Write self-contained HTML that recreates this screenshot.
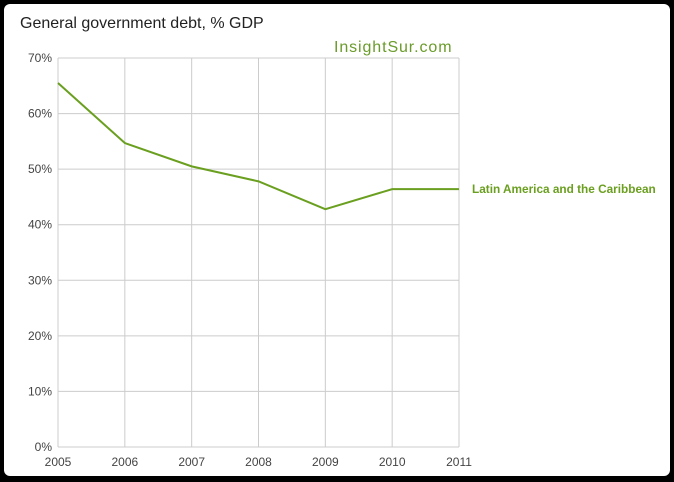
<!DOCTYPE html>
<html><head><meta charset="utf-8"><style>
html,body{margin:0;padding:0;background:#000;}
#frame{position:absolute;left:4px;top:4px;width:666px;height:472px;background:#fff;border-radius:6px;}
svg{position:absolute;left:0;top:0;}
text{font-family:"Liberation Sans",Arial,sans-serif;}
</style></head><body>
<div id="frame"></div>
<svg id="chart" width="674" height="482">
<text x="20" y="28" font-size="16" fill="#222">General government debt, % GDP</text>
<text x="334" y="52" font-size="16" letter-spacing="0.9" fill="#6a9b2a">InsightSur.com</text>
<g id="grid"></g><g id="series"></g>
</svg>
<script>
const years=["2005","2006","2007","2008","2009","2010","2011"];
const debt=[65.5,54.7,50.5,47.8,42.8,46.4,46.4];
const yTicks=[0,10,20,30,40,50,60,70];
const seriesName="Latin America and the Caribbean";
const X0=58,X1=459,Y0=447,Y1=58,NS="http://www.w3.org/2000/svg";
const xs=i=>X0+(X1-X0)*i/(years.length-1);
const ys=v=>Y0-(Y0-Y1)*v/70;
const g=document.getElementById('grid'),s=document.getElementById('series');
function mk(t,a,p){const e=document.createElementNS(NS,t);for(const k in a)e.setAttribute(k,a[k]);p.appendChild(e);return e;}
yTicks.forEach(v=>{
 const l=mk('line',{x1:X0,x2:X1,y1:ys(v),y2:ys(v),stroke:'#ccc','stroke-width':1},g);
 
 
 const t=mk('text',{x:X0-6,y:ys(v)+4,'text-anchor':'end','font-size':12,fill:'#444'},g);t.textContent=v+'%';
 
 
});
years.forEach((y,i)=>{
 const l=mk('line',{x1:xs(i),x2:xs(i),y1:Y1,y2:Y0,stroke:'#ccc','stroke-width':1},g);
 
 
 const t=mk('text',{x:xs(i),y:466,'text-anchor':'middle','font-size':12,fill:'#444'},g);t.textContent=y;
 
 
});
const p=mk('polyline',{points:debt.map((v,i)=>xs(i)+','+ys(v)).join(' '),fill:'none',stroke:'#6a9f1f','stroke-width':2},s);


const lt=mk('text',{x:472,y:ys(debt[debt.length-1])+4,'font-size':11.8,'font-weight':'bold',fill:'#6a9f1f'},s);lt.textContent=seriesName;


</script>
</body></html>
